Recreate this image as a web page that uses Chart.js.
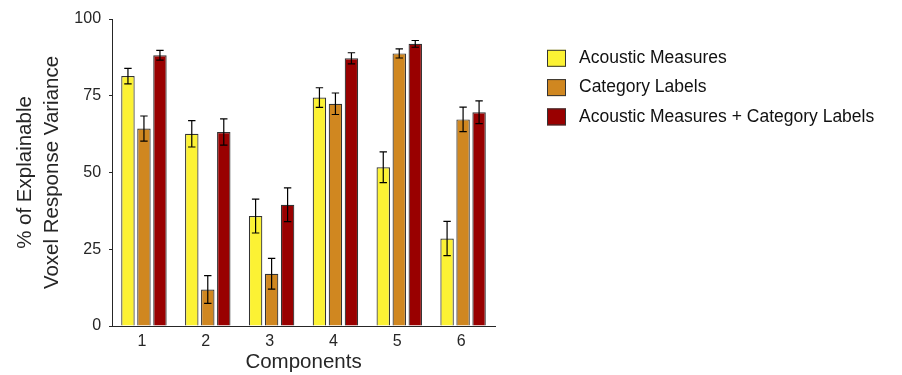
<!DOCTYPE html>
<html lang="en">
<head>
    <meta charset="UTF-8">
    <title>Components</title>
    <script src="https://cdn.jsdelivr.net/npm/chart.js"></script>
    <style>
        body { margin: 0; background: #fff; }
    </style>
</head>
<body>
    <canvas id="myChart" width="902" height="375"></canvas>

<script>
    // values
    var v_components = ['1', '2', '3', '4', '5', '6'];
    var v_seriesNames = ['Acoustic Measures', 'Category Labels', 'Acoustic Measures + Category Labels'];
    var v_acoustic = [81.4, 62.6, 35.8, 74.4, 51.7, 28.5];
    var v_acousticErr = [2.5, 4.3, 5.5, 3.2, 5.0, 5.6];
    var v_category = [64.3, 11.9, 17.0, 72.4, 88.8, 67.3];
    var v_categoryErr = [4.1, 4.5, 5.0, 3.5, 1.5, 4.0];
    var v_combined = [88.2, 63.2, 39.5, 87.2, 91.9, 69.6];
    var v_combinedErr = [1.6, 4.3, 5.5, 1.8, 1.1, 3.7];
    var v_yTicks = [0, 25, 50, 75, 100];

    var v_colors = ['#fcf234', '#d08720', '#990000'];
    var v_text = '#262626';

    Chart.defaults.font.family = "'Liberation Sans', Arial, sans-serif";

    // error bars drawn with the y scale
    const errorBars = {
        id: 'errorBars',
        afterDatasetsDraw(chart) {
            const ctx = chart.ctx;
            const yScale = chart.scales.y;
            ctx.save();
            ctx.strokeStyle = '#000';
            ctx.lineWidth = 1.2;
            chart.data.datasets.forEach(function(ds, i){
                const meta = chart.getDatasetMeta(i);
                meta.data.forEach(function(bar, j){
                    const v = ds.data[j], e = ds.errors[j];
                    const yHi = yScale.getPixelForValue(v + e);
                    const yLo = yScale.getPixelForValue(v - e);
                    const x = bar.x, w = 3.7;
                    ctx.beginPath();
                    ctx.moveTo(x, yHi); ctx.lineTo(x, yLo);
                    ctx.moveTo(x - w, yHi); ctx.lineTo(x + w, yHi);
                    ctx.moveTo(x - w, yLo); ctx.lineTo(x + w, yLo);
                    ctx.stroke();
                });
            });
            ctx.restore();
        }
    };

    // legend to the right of the plot (built-in one gets squeezed)
    const sideLegend = {
        id: 'sideLegend',
        afterDraw(chart) {
            const ctx = chart.ctx;
            const area = chart.chartArea;
            const x0 = area.right + 52;
            let y = area.top + 39.3;
            ctx.save();
            ctx.font = "17.5px 'Liberation Sans', Arial, sans-serif";
            ctx.textBaseline = 'middle';
            ctx.textAlign = 'left';
            chart.data.datasets.forEach(function(ds){
                ctx.fillStyle = ds.backgroundColor;
                ctx.fillRect(x0, y - 8.5, 19, 17);
                ctx.strokeStyle = '#333';
                ctx.lineWidth = 1;
                ctx.strokeRect(x0 + 0.5, y - 8, 18, 16);
                ctx.fillStyle = '#111';
                ctx.fillText(ds.label, x0 + 32, y);
                y += 29.3;
            });
            ctx.restore();
        }
    };

    const ctx = document.getElementById('myChart').getContext('2d');
    const myChart = new Chart(ctx, {
        type: 'bar',
        data: {
            labels: v_components,
            datasets: [
                { label: v_seriesNames[0], data: v_acoustic, errors: v_acousticErr,
                  backgroundColor: v_colors[0], borderColor: '#333', borderWidth: 1.2 },
                { label: v_seriesNames[1], data: v_category, errors: v_categoryErr,
                  backgroundColor: v_colors[1], borderColor: '#333', borderWidth: 1.2 },
                { label: v_seriesNames[2], data: v_combined, errors: v_combinedErr,
                  backgroundColor: v_colors[2], borderColor: '#333', borderWidth: 1.2 }
            ]
        },
        options: {
            responsive: false,
            animation: false,
            categoryPercentage: 0.752,
            barPercentage: 0.84,
            layout: { padding: { left: 11.4, top: 19, right: 407, bottom: 8.2 } },
            plugins: {
                tooltip: { enabled: false },
                legend: { display: false }
            },
            scales: {
                x: {
                    offset: true,
                    grid: { display: false, drawTicks: false },
                    border: { display: true, color: v_text, width: 1 },
                    ticks: { color: v_text, font: { size: 16 }, padding: 6, labelOffset: -2 },
                    title: { display: true, text: 'Components', color: v_text,
                             font: { size: 20.5, lineHeight: 0.468 }, padding: { top: 0, bottom: 0 } }
                },
                y: {
                    min: 0,
                    max: 100,
                    afterBuildTicks: function(axis){
                        axis.ticks = v_yTicks.map(function(v){ return { value: v }; });
                    },
                    grid: { display: true, drawOnChartArea: false, drawTicks: true,
                            tickLength: 3, tickColor: v_text },
                    border: { display: true, color: v_text, width: 1 },
                    ticks: { color: v_text, font: { size: 16 }, padding: 8 },
                    title: { display: true, text: ['% of Explainable', 'Voxel Response Variance'],
                             color: v_text, font: { size: 20.5, lineHeight: 1.34 },
                             padding: { top: 0, bottom: 0 } }
                }
            }
        },
        plugins: [errorBars, sideLegend]
    });
</script>
</body>
</html>
